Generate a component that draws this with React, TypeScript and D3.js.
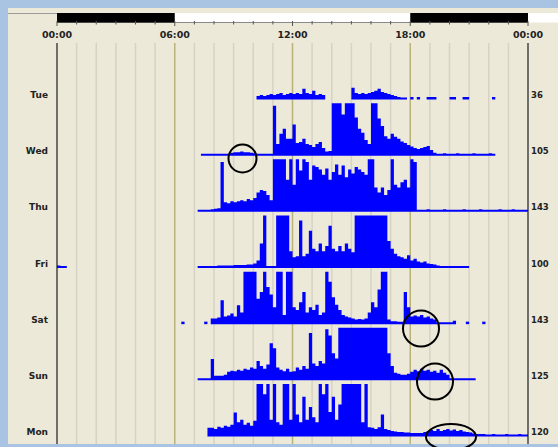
import * as d3 from "d3";

// rows of the actogram, top to bottom
const days = ["Tue", "Wed", "Thu", "Fri", "Sat", "Sun", "Mon"];
const dayTotals = [36, 105, 143, 100, 143, 125, 120];
const hourLabels = ["00:00", "06:00", "12:00", "18:00", "00:00"];
const lightsOn = 6;
const lightsOff = 18;

// activity per 10 minute bin (0-100 of row height), null = no record
const tueStart = "10:10";
const tueValues = [
  4, 6, 4, 6, 8, 6, 8, 10, 6, 8, 10, 8, 10, 8, 18, 10, 8, 14, 6, 8, 6,
  null, null, null, null, null, null, null, null,
  20, 10, 8, 10, 8, 10, 12, 14, 18, 12, 10, 8, 6, 4, 2, 1, 1,
  null, 2, null, 2, null, null, 2, 2, 2, null, null, null, null, 2, 2, null, null, 2, 2,
  null, null, null, null, null, null, null, 2,
];

const wedStart = "07:20";
const wedValues = [
  1, 1, 1, 1, 1, 1, 1, 1, 1,
  3, 4, 4, 5, 4, 4, 3, 2,
  1, 1, 1, 1, 1,
  95,
  20, 40, 50, 30, 30, 58, 22, 24, 30, 20, 18, 14, 20, 24, 12, 5, 6,
  100, 100, 100, 78, 100, 100, 100, 72, 50, 42, 28, 20, 100, 100, 70, 55, 35, 30,
  40, 34, 30, 25, 22, 18, 15, 12, 10, 12, 14, 16, 8, 3,
  1, 1, 2, 1, 1, 1, 2, 1, 1, 1, 1, 2, 1, 1, 1, 1, 2, 1,
];

const thuStart = "07:10";
const thuValues = [
  1, 1, 1, 1, 2, 3, 4, 95, 16, 14, 18, 16, 18, 20, 18, 22, 20, 24, 35, 40, 38, 30, 20,
  100, 100, 100, 100, 60, 100, 50, 100, 78, 100, 95, 60, 88, 85, 80, 70, 82, 60,
  75, 90, 70, 88, 65, 80, 72, 85, 80, 75, 70, 100, 100, 45, 35, 45, 30, 40,
  100, 50, 45, 55, 60, 45, 100, 95,
  1, 1, 1, 2, 1, 1, 1, 1, 2, 1, 1, 1, 1, 1, 2, 1, 1, 1, 1, 2, 1, 1, 1, 1, 1, 2, 1, 1, 1, 2, 1, 1, 1, 1,
];

const friNightStart = "00:00";
const friNightValues = [2, 1, 1];
const friStart = "07:10";
const friValues = [
  1, 1, 1, 1, 1, 1, 2, 2, 2, 2, 2, 3, 3, 3, 3, 4, 4,
  6, 12, 45, 100, 1, 1, 1, 100, 100, 100, 100, 30, 18, 20, 90, 20, 25, 70, 35, 30, 45,
  30, 40, 80, 35, 30, 40, 30, 45, 35, 28,
  100, 100, 100, 100, 100, 100, 100, 100, 100, 100,
  50, 35, 25, 20, 18, 15, 22, 12, 15, 10, 8, 10, 6, 5, 4, 2,
  1, 1, 1, 1, 1, 1, 1, 1, 1,
];

const satStart = "06:20";
const satValues = [
  2, null, null, null, null, null, null, 2, null,
  8, 8, 10, 44, 12, 14, 18, 12, 34, 20, 100, 100, 100, 100, 47, 60, 100, 70, 55, 30,
  100, 100, 15, 100, 100, 30, 25, 40, 60, 20, 30, 25, 35, 15, 20, 100, 80, 50, 35, 25,
  15, 12, 10, 8, 6, 7, 6, 8, 20, 40, 30, 65, 100, 100, 6, 3, 3, 2, 2, 60, 30,
  12, 14, 12, 15, 10, 12, 8, 6, 1, 1, 1, 1, 1, 4,
  null, null, null, 2, null, null, null, null, 2,
];

const sunStart = "07:10";
const sunValues = [
  1, 1, 1, 1, 39, 6, 6, 6, 8, 14, 16, 15, 18, 16, 20, 18, 22, 20, 35, 25, 20, 28,
  70, 60, 22, 18, 15, 20, 14, 15, 22, 18, 25, 20, 90, 30, 25, 35, 30, 97, 85, 50, 40,
  100, 100, 100, 100, 100, 100, 100, 100, 100, 100, 100, 100, 100, 100, 100,
  50, 25, 12, 10, 8, 8, 10, 14, 18, 15, 20, 16, 18, 14, 16, 12, 18, 12, 8,
  1, 1, 1, 1, 1, 1, 1, 1,
];

const monStart = "07:40";
const monValues = [
  14, 14, 12, 16, 14, 18, 16, 20, 44, 25, 30, 20, 24, 18, 28,
  100, 100, 80, 100, 30, 100, 25, 20, 100, 100, 30, 100, 40, 25, 75, 30, 55, 35, 25,
  100, 80, 100, 45, 75, 30, 60, 100, 100, 100, 100, 100, 100, 25, 100,
  15, 14, 12, 15, 40, 12, 10, 8, 7, 6, 6, 5, 5, 4, 4, 4, 4,
  6, 8, 10, 8, 12, 8, 10, 12, 9, 11, 8, 10, 7, 6, 5, 3,
  2, 2, 2, 1, 1, 2, 1, 1, 1, 2, 1, 1, 1, 2, 1, 1,
];

// highlighted spots drawn by hand on the original
const marks = [
  { cx: 242.5, cy: 158.5, rx: 14, ry: 14 },
  { cx: 421, cy: 328.5, rx: 18, ry: 18 },
  { cx: 435, cy: 381.5, rx: 18, ry: 18 },
  { cx: 451, cy: 437, rx: 25, ry: 13 },
];

const rows: [string, string, (number | null)[]][][] = [
  [["Tue", tueStart, tueValues]],
  [["Wed", wedStart, wedValues]],
  [["Thu", thuStart, thuValues]],
  [["Fri", friNightStart, friNightValues], ["Fri", friStart, friValues]],
  [["Sat", satStart, satValues]],
  [["Sun", sunStart, sunValues]],
  [["Mon", monStart, monValues]],
];

const BIN = 1 / 6;
const toHours = (s: string) => {
  const [h, m] = s.split(":").map(Number);
  return h + m / 60;
};

const W = 558;
const H = 447;
const font = "'DejaVu Sans', Verdana, sans-serif";

export default function App() {
  const x = d3.scaleLinear().domain([0, 24]).range([57, 528]);
  const rowY = d3.scalePoint<string>().domain(days).range([98.5, 435.5]);
  const h = d3.scaleLinear().domain([0, 100]).range([0, 51]);

  const paths: { d: string; key: string }[] = [];
  rows.forEach((segs) => {
    segs.forEach(([day, start, values], si) => {
      const base = rowY(day)!;
      const t0 = toHours(start);
      const runs: { t: number; v: number }[][] = [];
      let cur: { t: number; v: number }[] | null = null;
      values.forEach((v, i) => {
        if (v == null) {
          if (cur) runs.push(cur);
          cur = null;
          return;
        }
        if (!cur) cur = [];
        cur.push({ t: t0 + i * BIN, v });
      });
      if (cur) runs.push(cur);
      const area = d3
        .area<{ t: number; v: number }>()
        .x((d) => x(d.t))
        .y0(base + 1)
        .y1((d) => base - h(d.v) - 0.5)
        .curve(d3.curveStepAfter);
      runs.forEach((r, ri) => {
        const last = r[r.length - 1];
        const pts = [...r, { t: last.t + BIN, v: last.v }];
        paths.push({ d: area(pts) || "", key: `${day}-${si}-${ri}` });
      });
    });
  });

  const hours = d3.range(0, 25);

  return (
    <svg width={W} height={H} style={{ position: "absolute", left: 0, top: 0 }}>
      <rect x={0} y={0} width={W} height={H} fill="#a9c3e2" />
      <rect x={8} y={8} width={W - 8} height={436} fill="#ece9d8" />

      {/* hour grid */}
      {hours.map((hr) => {
        const edge = hr === 0 || hr === 24;
        const major = hr % 6 === 0;
        return (
          <line
            key={"g" + hr}
            x1={x(hr)}
            x2={x(hr)}
            y1={43}
            y2={444}
            stroke={edge ? "#6e6e6a" : major ? "#bab27a" : "#d6d3c6"}
            strokeWidth={edge ? 2 : 1.5}
          />
        );
      })}

      {/* light / dark bar */}
      <line x1={8} x2={57} y1={13.5} y2={13.5} stroke="#9c9c9c" />
      <rect x={x(0)} y={13} width={W - x(0)} height={9.5} fill="#ffffff" />
      <line x1={x(0)} x2={x(24)} y1={22.5} y2={22.5} stroke="#8a8a8a" />
      <rect x={x(0)} y={13} width={x(lightsOn) - x(0)} height={9.5} fill="#000" />
      <rect x={x(lightsOff)} y={13} width={x(24) - x(lightsOff)} height={9.5} fill="#000" />
      {hours.map((hr) => (
        <line
          key={"t" + hr}
          x1={x(hr)}
          x2={x(hr)}
          y1={21}
          y2={hr % 6 === 0 ? 26 : 24.5}
          stroke="#555"
          strokeWidth={1}
        />
      ))}
      {hourLabels.map((lab, i) => (
        <text
          key={"hl" + i}
          x={x(i * 6)}
          y={37.5}
          textAnchor="middle"
          fontFamily={font}
          fontWeight="bold"
          fontSize={9.5}
          fill="#222"
        >
          {lab}
        </text>
      ))}

      {/* day labels and totals */}
      {days.map((d, i) => (
        <g key={d}>
          <text
            x={48}
            y={rowY(d)! - 0.5}
            textAnchor="end"
            fontFamily={font}
            fontWeight="bold"
            fontSize={9}
            fill="#222"
          >
            {d}
          </text>
          <text
            x={531}
            y={rowY(d)! - 0.5}
            fontFamily={font}
            fontWeight="bold"
            fontSize={8.5}
            fill="#222"
          >
            {dayTotals[i]}
          </text>
        </g>
      ))}

      {/* activity */}
      {paths.map((p) => (
        <path key={p.key} d={p.d} fill="#0000ff" />
      ))}

      {marks.map((m, i) => (
        <ellipse
          key={"m" + i}
          cx={m.cx}
          cy={m.cy}
          rx={m.rx}
          ry={m.ry}
          fill="none"
          stroke="#000"
          strokeWidth={2}
        />
      ))}
    </svg>
  );
}
